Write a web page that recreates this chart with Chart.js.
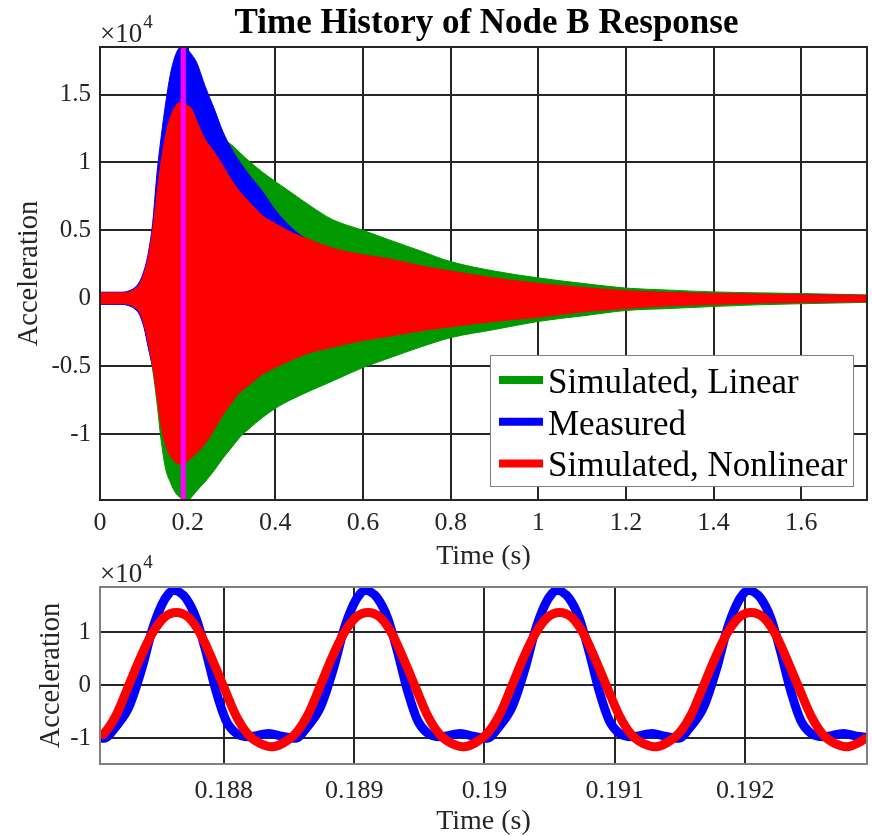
<!DOCTYPE html>
<html>
<head>
<meta charset="utf-8">
<script src="https://cdn.jsdelivr.net/npm/chart.js@4.4.1/dist/chart.umd.min.js"></script>
<style>
  body { margin: 0; background: #fff; }
  canvas { position: absolute; left: 0; }
</style>
</head>
<body>
<canvas id="history" width="872" height="575" style="top:0"></canvas>
<canvas id="detail" width="872" height="291" style="top:545px"></canvas>
<script>
// ---- top panel: envelopes of the response (values in units of 1e4) ----
const envTime = [0, 0.05, 0.07, 0.08, 0.09, 0.1, 0.11, 0.12, 0.13, 0.14, 0.15, 0.16, 0.17, 0.18, 0.19, 0.2, 0.21, 0.22,
  0.24, 0.26, 0.28, 0.3, 0.32, 0.34, 0.37, 0.4, 0.44, 0.48, 0.53, 0.6, 0.66, 0.73, 0.8, 0.9,
  1.0, 1.1, 1.2, 1.3, 1.4, 1.5, 1.6, 1.75];

const linearUpper = [0.04, 0.04, 0.05, 0.07, 0.1, 0.17, 0.3, 0.5, 0.72, 0.95, 1.12, 1.26, 1.36, 1.43, 1.46, 1.45, 1.42, 1.38,
  1.31, 1.24, 1.18, 1.13, 1.07, 1.01, 0.93, 0.86, 0.77, 0.68, 0.58, 0.5, 0.43, 0.35, 0.27, 0.2,
  0.15, 0.11, 0.075, 0.06, 0.047, 0.04, 0.035, 0.025];
const linearLower = [-0.04, -0.04, -0.05, -0.07, -0.1, -0.2, -0.35, -0.52, -0.77, -1.06, -1.26, -1.35, -1.42, -1.46, -1.48, -1.49, -1.46, -1.42,
  -1.35, -1.27, -1.18, -1.1, -1.02, -0.96, -0.88, -0.81, -0.74, -0.68, -0.61, -0.51, -0.44, -0.36, -0.29, -0.23,
  -0.17, -0.13, -0.09, -0.075, -0.06, -0.048, -0.04, -0.03];

const measuredUpper = [0.045, 0.045, 0.06, 0.08, 0.12, 0.2, 0.33, 0.55, 0.92, 1.2, 1.44, 1.64, 1.77, 1.84, 1.86, 1.83, 1.79, 1.74,
  1.56, 1.4, 1.23, 1.1, 1.0, 0.91, 0.79, 0.65, 0.51, 0.42, 0.35, 0.3, 0.27, 0.22, 0.18, 0.13,
  0.1, 0.07, 0.05, 0.04, 0.033, 0.028, 0.024, 0.02];
const measuredLower = [-0.045, -0.045, -0.06, -0.08, -0.12, -0.21, -0.36, -0.5, -0.62, -0.75, -0.85, -0.92, -0.97, -1.0, -1.0, -1.0, -0.98, -0.95,
  -0.9, -0.85, -0.8, -0.72, -0.66, -0.62, -0.55, -0.5, -0.43, -0.38, -0.34, -0.29, -0.26, -0.22, -0.19, -0.15,
  -0.12, -0.09, -0.065, -0.05, -0.04, -0.032, -0.027, -0.022];

const nonlinearUpper = [0.04, 0.04, 0.05, 0.07, 0.1, 0.18, 0.3, 0.5, 0.77, 1.02, 1.2, 1.33, 1.4, 1.44, 1.44, 1.42, 1.39, 1.31,
  1.17, 1.08, 0.98, 0.87, 0.78, 0.71, 0.61, 0.55, 0.48, 0.43, 0.37, 0.32, 0.29, 0.24, 0.2, 0.15,
  0.11, 0.08, 0.055, 0.042, 0.035, 0.03, 0.025, 0.022];
const nonlinearLower = [-0.04, -0.04, -0.05, -0.07, -0.1, -0.19, -0.33, -0.5, -0.72, -0.95, -1.08, -1.16, -1.2, -1.22, -1.22, -1.2, -1.17, -1.14,
  -1.07, -0.97, -0.86, -0.77, -0.69, -0.64, -0.56, -0.51, -0.45, -0.4, -0.36, -0.31, -0.28, -0.24, -0.21, -0.17,
  -0.14, -0.1, -0.075, -0.055, -0.045, -0.035, -0.03, -0.025];

const markerTime = 0.19;
const historyXTicks = [0, 0.2, 0.4, 0.6, 0.8, 1, 1.2, 1.4, 1.6];
const historyYTicks = [-1, -0.5, 0, 0.5, 1, 1.5];

// ---- bottom panel: zoom around t = 0.19 s ----
const measuredTime = [
  0.18705, 0.18708, 0.187172, 0.187272, 0.187372, 0.187448, 0.187525, 0.187579, 0.187617, 0.187655, 0.187709, 0.187786, 0.187862, 0.187939, 0.188016, 0.188092, 0.188192, 0.188346,
  0.188443, 0.18855, 0.188642, 0.188742, 0.188842, 0.188918, 0.188995, 0.189049, 0.189087, 0.189125, 0.189179, 0.189256, 0.189332, 0.189409, 0.189486, 0.189562, 0.189662, 0.189816,
  0.189913, 0.19002, 0.190112, 0.190212, 0.190312, 0.190388, 0.190465, 0.190519, 0.190557, 0.190595, 0.190649, 0.190726, 0.190802, 0.190879, 0.190956, 0.191032, 0.191132, 0.191286,
  0.191383, 0.19149, 0.191582, 0.191682, 0.191782, 0.191858, 0.191935, 0.191989, 0.192027, 0.192065, 0.192119, 0.192196, 0.192272, 0.192349, 0.192426, 0.192502, 0.192602, 0.192756,
  0.192853, 0.192935];
const measuredValue = [
  -1.0, -1.0, -0.78, -0.41, 0.32, 1.02, 1.52, 1.73, 1.79, 1.76, 1.64, 1.27, 0.64, -0.1, -0.66, -0.9, -0.97, -0.91,
  -0.96, -1.0, -0.78, -0.41, 0.32, 1.02, 1.52, 1.73, 1.79, 1.76, 1.64, 1.27, 0.64, -0.1, -0.66, -0.9, -0.97, -0.91,
  -0.96, -1.0, -0.78, -0.41, 0.32, 1.02, 1.52, 1.73, 1.79, 1.76, 1.64, 1.27, 0.64, -0.1, -0.66, -0.9, -0.97, -0.91,
  -0.96, -1.0, -0.78, -0.41, 0.32, 1.02, 1.52, 1.73, 1.79, 1.76, 1.64, 1.27, 0.64, -0.1, -0.66, -0.9, -0.97, -0.91,
  -0.96, -0.98];

const nonlinearTime = [
  0.18705, 0.187085, 0.187177, 0.187268, 0.18736, 0.187452, 0.187544,
  0.187636, 0.187728, 0.18782, 0.187912, 0.188004, 0.188095, 0.188187, 0.188279, 0.188371, 0.188463, 0.188555, 0.188647, 0.188739, 0.18883, 0.188922, 0.189014,
  0.189106, 0.189198, 0.18929, 0.189382, 0.189474, 0.189565, 0.189657, 0.189749, 0.189841, 0.189933, 0.190025, 0.190117, 0.190209, 0.1903, 0.190392, 0.190484,
  0.190576, 0.190668, 0.19076, 0.190852, 0.190944, 0.191036, 0.191127, 0.191219, 0.191311, 0.191403, 0.191495, 0.191587, 0.191679, 0.191771, 0.191862, 0.191954,
  0.192046, 0.192138, 0.19223, 0.192322, 0.192414, 0.192506, 0.192597, 0.192689, 0.192781, 0.192873, 0.192935];
const nonlinearValue = [
  -0.96, -0.9, -0.55, -0.02, 0.52, 0.98, 1.28,
  1.37, 1.28, 0.97, 0.48, -0.06, -0.58, -0.93, -1.1, -1.16, -1.08, -0.9, -0.55, -0.02, 0.52, 0.98, 1.28,
  1.37, 1.28, 0.97, 0.48, -0.06, -0.58, -0.93, -1.1, -1.16, -1.08, -0.9, -0.55, -0.02, 0.52, 0.98, 1.28,
  1.37, 1.28, 0.97, 0.48, -0.06, -0.58, -0.93, -1.1, -1.16, -1.08, -0.9, -0.55, -0.02, 0.52, 0.98, 1.28,
  1.37, 1.28, 0.97, 0.48, -0.06, -0.58, -0.93, -1.1, -1.16, -1.08, -0.98];

const detailXTicks = [0.188, 0.189, 0.19, 0.191, 0.192];
const detailYTicks = [-1, 0, 1];
const detailXRange = [0.18705, 0.192935];
const yRange = [-1.485, 1.85];

const seriesNames = ["Simulated, Linear", "Measured", "Simulated, Nonlinear"];
const seriesColors = ["#009900", "#0000ff", "#ff0000"];
const markerColor = "#ff00ff";

const FONT = '"Liberation Serif", "Times New Roman", serif';
const INK = "#262626";
const pts = (xs, ys) => xs.map((x, i) => ({ x: x, y: ys[i] }));

// title, x10^4 label, box and legend are drawn on the canvas by hand
const decor = {
    id: "decor",
    afterDatasetsDraw(chart, args, opts) {
        const { ctx, chartArea: a } = chart;
        ctx.save();
        ctx.strokeStyle = opts.boxColor || INK;
        ctx.lineWidth = 2;
        ctx.strokeRect(a.left, a.top, a.right - a.left, a.bottom - a.top);
        ctx.restore();
    },
    afterDraw(chart, args, opts) {
        const { ctx, chartArea: a } = chart;
        ctx.save();
        ctx.fillStyle = INK;
        ctx.textBaseline = "alphabetic";
        ctx.textAlign = "left";
        ctx.font = "27px " + FONT;
        ctx.fillText("\u00d710", a.left, a.top - 5);
        const w = ctx.measureText("\u00d710").width;
        ctx.font = "19px " + FONT;
        ctx.fillText("4", a.left + w + 1, a.top - 19);

        if (opts.title) {
            ctx.fillStyle = "#000";
            ctx.font = "bold 35px " + FONT;
            ctx.textAlign = "center";
            ctx.fillText(opts.title, (a.left + a.right) / 2 + 3, 33);
        }

        if (opts.legend) {
            const bx = 490, by = 355, bw = 363, bh = 131;
            ctx.fillStyle = "#fff";
            ctx.fillRect(bx, by, bw, bh);
            ctx.strokeStyle = "#808080";
            ctx.lineWidth = 1;
            ctx.strokeRect(bx + 0.5, by + 0.5, bw, bh);
            ctx.font = "35px " + FONT;
            ctx.textAlign = "left";
            seriesNames.forEach((name, i) => {
                const base = 393 + i * 41.7;
                ctx.strokeStyle = seriesColors[i];
                ctx.lineWidth = 8;
                ctx.beginPath();
                ctx.moveTo(499, base - 13);
                ctx.lineTo(543, base - 13);
                ctx.stroke();
                ctx.fillStyle = "#000";
                ctx.fillText(name, 548, base);
            });
        }
        ctx.restore();
    }
};

function axisX(min, max, ticks, height, tickPad, titlePad) {
    return {
        type: "linear", min: min, max: max,
        afterBuildTicks: s => { s.ticks = ticks.map(v => ({ value: v })); },
        afterFit: s => { s.height = height; },
        grid: { color: INK, lineWidth: 2, drawTicks: false },
        border: { display: false },
        ticks: { padding: tickPad, color: INK, autoSkip: false, maxRotation: 0,
                 font: { family: FONT, size: 26 }, callback: v => String(v) },
        title: { display: true, text: "Time (s)", color: INK,
                 font: { family: FONT, size: 28, lineHeight: 1 }, padding: { top: 0, bottom: titlePad } }
    };
}

function axisY(ticks, titlePad) {
    return {
        type: "linear", min: yRange[0], max: yRange[1],
        afterBuildTicks: s => { s.ticks = ticks.map(v => ({ value: v })); },
        afterFit: s => { s.width = 100; },
        grid: { color: INK, lineWidth: 2, drawTicks: false },
        border: { display: false },
        ticks: { padding: 9, color: INK, font: { family: FONT, size: 25 }, callback: v => String(v) },
        title: { display: true, text: "Acceleration", color: INK,
                 font: { family: FONT, size: 28.5 }, padding: { top: titlePad, bottom: 0 } }
    };
}

function band(data, color, order, fill) {
    return { data: data, borderColor: color, backgroundColor: color, borderWidth: 1,
             pointRadius: 0, fill: fill, order: order, cubicInterpolationMode: "monotone" };
}

new Chart(document.getElementById("history"), {
    type: "line",
    data: {
        datasets: [
            band(pts(envTime, linearUpper), seriesColors[0], 4, "+1"),
            band(pts(envTime, linearLower), seriesColors[0], 5, false),
            band(pts(envTime, measuredUpper), seriesColors[1], 2, "+1"),
            band(pts(envTime, measuredLower), seriesColors[1], 3, false),
            band(pts(envTime, nonlinearUpper), seriesColors[2], 0, "+1"),
            band(pts(envTime, nonlinearLower), seriesColors[2], 1, false),
            { data: [{ x: markerTime, y: yRange[0] }, { x: markerTime, y: yRange[1] }],
              borderColor: markerColor, borderWidth: 5, pointRadius: 0, order: -1, fill: false }
        ]
    },
    options: {
        responsive: false, animation: false, devicePixelRatio: 1,
        layout: { padding: { top: 47, right: 5, bottom: 0, left: 0 } },
        plugins: { legend: { display: false }, tooltip: { enabled: false },
                   decor: { title: "Time History of Node B Response", legend: true } },
        scales: { x: axisX(0, 1.75, historyXTicks, 75, 8, 4), y: axisY(historyYTicks, 12) }
    },
    plugins: [decor]
});

new Chart(document.getElementById("detail"), {
    type: "line",
    data: {
        datasets: [
            { label: seriesNames[1], data: pts(measuredTime, measuredValue), borderColor: seriesColors[1],
              borderWidth: 9, pointRadius: 0, order: 1, cubicInterpolationMode: "monotone" },
            { label: seriesNames[2], data: pts(nonlinearTime, nonlinearValue), borderColor: seriesColors[2],
              borderWidth: 9, pointRadius: 0, order: 0, cubicInterpolationMode: "monotone" }
        ]
    },
    options: {
        responsive: false, animation: false, devicePixelRatio: 1,
        layout: { padding: { top: 42, right: 5, bottom: 0, left: 0 } },
        plugins: { legend: { display: false }, tooltip: { enabled: false }, decor: { boxColor: "#808080" } },
        scales: { x: axisX(detailXRange[0], detailXRange[1], detailXTicks, 72, 12, 0), y: axisY(detailYTicks, 34) }
    },
    plugins: [decor]
});
</script>
</body>
</html>
